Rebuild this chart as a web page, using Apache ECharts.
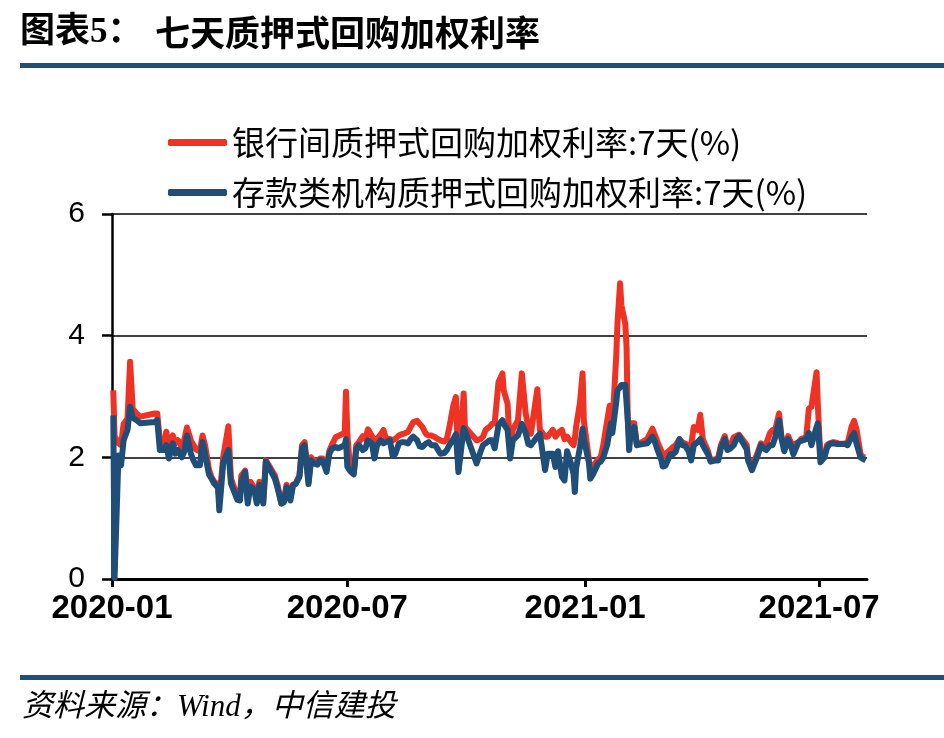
<!DOCTYPE html>
<html>
<head>
<meta charset="utf-8">
<title>七天质押式回购加权利率</title>
<script src="https://cdn.jsdelivr.net/npm/echarts@6/dist/echarts.min.js"></script>
<style>
  html, body { margin: 0; padding: 0; background: #fff; }
  #chart { width: 944px; height: 738px; }
</style>
</head>
<body>
<div id="chart"></div>
<script>
// 数据
var seriesNames = ['银行间质押式回购加权利率:7天(%)', '存款类机构质押式回购加权利率:7天(%)'];
var tickLabels = ['2020-01', '2020-07', '2021-01', '2021-07'];
var yTicks = [0, 2, 4, 6];

var dates = [
  '2020-01-02','2020-01-03','2020-01-06','2020-01-08','2020-01-10','2020-01-13','2020-01-15','2020-01-17','2020-01-20','2020-01-23',
  '2020-02-03','2020-02-05','2020-02-07','2020-02-10','2020-02-12','2020-02-14','2020-02-17','2020-02-19','2020-02-21','2020-02-24',
  '2020-02-26','2020-02-28','2020-03-02','2020-03-04','2020-03-06','2020-03-09','2020-03-11','2020-03-13','2020-03-16','2020-03-18',
  '2020-03-20','2020-03-23','2020-03-24','2020-03-27','2020-03-31','2020-04-02','2020-04-07','2020-04-09','2020-04-10','2020-04-13',
  '2020-04-15','2020-04-17','2020-04-20','2020-04-22','2020-04-24','2020-04-27','2020-04-29','2020-05-06','2020-05-08','2020-05-11',
  '2020-05-13','2020-05-15','2020-05-18','2020-05-20','2020-05-22','2020-05-25','2020-05-27','2020-05-29','2020-06-01','2020-06-03',
  '2020-06-05','2020-06-08','2020-06-10','2020-06-12','2020-06-15','2020-06-17','2020-06-19','2020-06-22','2020-06-24','2020-06-29',
  '2020-06-30','2020-07-01','2020-07-03','2020-07-06','2020-07-08','2020-07-10','2020-07-13','2020-07-15','2020-07-17','2020-07-20',
  '2020-07-22','2020-07-24','2020-07-27','2020-07-29','2020-07-31','2020-08-03','2020-08-05','2020-08-07','2020-08-10','2020-08-12',
  '2020-08-14','2020-08-17','2020-08-19','2020-08-21','2020-08-24','2020-08-26','2020-08-28','2020-08-31','2020-09-02','2020-09-04',
  '2020-09-07','2020-09-09','2020-09-11','2020-09-14','2020-09-16','2020-09-18','2020-09-21','2020-09-23','2020-09-25','2020-09-29',
  '2020-09-30','2020-10-09','2020-10-12','2020-10-14','2020-10-16','2020-10-19','2020-10-21','2020-10-23','2020-10-26','2020-10-29',
  '2020-10-30','2020-11-02','2020-11-04','2020-11-06','2020-11-10','2020-11-13','2020-11-16','2020-11-18','2020-11-20','2020-11-25',
  '2020-11-27','2020-12-01','2020-12-03','2020-12-07','2020-12-09','2020-12-11','2020-12-14','2020-12-16','2020-12-18','2020-12-21',
  '2020-12-23','2020-12-24','2020-12-25','2020-12-28','2020-12-30','2020-12-31','2021-01-04','2021-01-05','2021-01-07','2021-01-08',
  '2021-01-11','2021-01-13','2021-01-15','2021-01-18','2021-01-20','2021-01-21','2021-01-22','2021-01-25','2021-01-26','2021-01-28',
  '2021-01-29','2021-02-01','2021-02-02','2021-02-03','2021-02-04','2021-02-05','2021-02-08','2021-02-09','2021-02-10','2021-02-18',
  '2021-02-19','2021-02-22','2021-02-24','2021-02-26','2021-03-01','2021-03-02','2021-03-04','2021-03-08','2021-03-10','2021-03-12',
  '2021-03-15','2021-03-17','2021-03-19','2021-03-22','2021-03-24','2021-03-26','2021-03-29','2021-03-31','2021-04-02','2021-04-06',
  '2021-04-08','2021-04-12','2021-04-14','2021-04-16','2021-04-19','2021-04-21','2021-04-23','2021-04-26','2021-04-28','2021-04-30',
  '2021-05-06','2021-05-07','2021-05-10','2021-05-12','2021-05-14','2021-05-17','2021-05-19','2021-05-21','2021-05-24','2021-05-26',
  '2021-05-28','2021-05-31','2021-06-02','2021-06-04','2021-06-07','2021-06-09','2021-06-11','2021-06-15','2021-06-17','2021-06-21',
  '2021-06-23','2021-06-25','2021-06-29','2021-06-30','2021-07-02','2021-07-05','2021-07-07','2021-07-09','2021-07-12','2021-07-14',
  '2021-07-16','2021-07-19','2021-07-21','2021-07-23','2021-07-26','2021-07-28','2021-07-30','2021-08-02','2021-08-04','2021-08-06'
];

// 银行间质押式回购加权利率:7天
var interbankRate = [
  3.10,2.35,2.23,2.20,2.55,2.64,3.57,2.80,2.72,2.67,
  2.72,2.72,2.28,2.17,2.42,2.17,2.36,2.23,2.28,2.17,
  2.30,2.49,2.28,2.20,2.13,2.10,2.36,2.20,1.80,1.67,
  1.60,1.55,1.30,2.00,2.51,1.65,1.35,1.33,1.70,1.78,
  1.30,1.60,1.50,1.30,1.60,1.28,1.95,1.70,1.55,1.24,
  1.30,1.55,1.33,1.55,1.57,1.70,2.20,2.25,1.60,2.00,
  1.95,1.93,1.98,1.98,1.80,2.10,2.20,2.33,2.35,2.40,
  3.08,2.40,1.85,1.75,2.20,2.25,2.35,2.30,2.46,2.35,
  2.28,2.30,2.38,2.45,2.30,2.30,2.28,2.30,2.36,2.38,
  2.39,2.42,2.50,2.58,2.60,2.55,2.50,2.38,2.36,2.36,
  2.33,2.30,2.28,2.26,2.30,2.50,2.85,2.99,1.80,3.05,
  2.50,2.28,2.30,2.34,2.45,2.50,2.55,2.56,3.24,3.38,
  3.10,2.88,2.05,2.45,2.61,3.38,2.72,2.50,2.39,3.12,
  2.45,2.34,2.34,2.45,2.34,2.40,2.45,2.30,2.34,2.25,
  2.20,2.30,2.50,2.90,3.38,2.60,1.95,1.78,1.85,1.87,
  1.97,2.00,2.20,2.60,2.85,2.86,2.50,3.65,4.20,4.86,
  4.50,4.20,3.82,2.60,2.30,2.56,2.56,2.56,2.20,2.30,
  2.33,2.47,2.36,2.25,2.10,2.00,2.05,2.13,2.17,2.20,
  2.30,2.25,2.23,2.20,2.20,2.50,2.45,2.70,2.30,2.10,
  1.95,1.97,2.00,2.20,2.35,2.17,2.18,2.33,2.35,2.37,
  2.20,2.00,1.80,1.95,2.05,2.23,2.20,2.22,2.40,2.45,
  2.45,2.72,2.30,2.15,2.35,2.25,2.20,2.25,2.30,2.33,
  2.80,2.83,3.40,2.85,2.00,2.00,2.20,2.23,2.25,2.24,
  2.23,2.22,2.23,2.23,2.50,2.60,2.45,2.05,2.00,2.00
];

// 存款类机构质押式回购加权利率:7天
var depositRate = [
  2.69,0.02,2.03,1.87,2.28,2.45,2.83,2.65,2.61,2.56,
  2.58,2.61,2.12,2.12,2.20,1.98,2.23,2.06,2.12,2.00,
  2.10,2.36,2.06,1.95,1.87,1.87,2.25,2.05,1.72,1.65,
  1.57,1.50,1.13,1.90,2.12,1.57,1.30,1.29,1.60,1.76,
  1.24,1.52,1.47,1.24,1.55,1.24,1.93,1.65,1.50,1.24,
  1.26,1.51,1.29,1.54,1.56,1.68,2.15,2.20,1.56,1.95,
  1.90,1.88,1.96,1.94,1.76,2.05,2.14,2.17,2.15,2.20,
  2.30,1.85,1.78,1.72,2.15,2.20,2.12,2.15,2.28,2.23,
  1.98,2.20,2.28,2.23,2.25,2.28,2.03,2.05,2.23,2.25,
  2.25,2.23,2.30,2.34,2.28,2.18,2.17,2.23,2.25,2.20,
  2.20,2.13,2.06,2.07,2.12,2.20,2.30,2.38,1.76,2.48,
  2.44,1.90,2.09,2.20,2.23,2.28,2.28,2.15,2.53,2.61,
  2.55,2.45,1.98,2.28,2.36,2.55,2.40,2.22,2.20,2.34,
  2.39,1.79,2.06,2.06,1.84,2.10,1.68,1.62,2.10,1.90,
  1.73,1.43,1.82,2.17,2.47,2.30,1.90,1.65,1.72,1.75,
  1.90,1.93,2.00,2.20,2.45,2.56,2.40,2.90,3.10,3.15,
  3.19,3.19,3.19,2.60,2.12,2.35,2.50,2.47,2.20,2.23,
  2.23,2.34,2.25,2.12,1.95,1.85,1.86,2.05,2.05,2.09,
  2.30,2.20,2.20,2.10,1.95,2.20,2.25,2.30,2.20,2.05,
  1.93,1.95,1.95,2.15,2.30,2.12,2.14,2.20,2.30,2.35,
  2.13,1.95,1.79,1.90,2.00,2.20,2.15,2.12,2.20,2.20,
  2.33,2.61,2.30,2.10,2.30,2.20,2.05,2.25,2.27,2.30,
  2.40,2.20,2.50,2.56,1.92,2.00,2.15,2.22,2.23,2.22,
  2.22,2.22,2.22,2.20,2.33,2.40,2.22,2.00,1.97,1.95
];

var axisStart = '2020-01-01';
var axisEnd = '2021-08-07';

function toTime(s) { return +echarts.time.parse(s); }

var tickTimes = tickLabels.map(function (s) { return toTime(s + '-01'); });

function pairs(vals) {
  return dates.map(function (d, i) { return [toTime(d), vals[i]]; });
}

var chart = echarts.init(document.getElementById('chart'));

var option = {
  animation: false,
  backgroundColor: '#ffffff',
  graphic: [
    { type: 'text', left: 20, top: 15,
      style: { text: '图表5：', font: 'bold 35px "Liberation Serif", "Noto Sans CJK SC"', fill: '#000' } },
    { type: 'text', left: 155, top: 15,
      style: { text: '七天质押式回购加权利率', font: 'bold 35px "Noto Sans CJK SC"', fill: '#000' } },
    { type: 'rect', shape: { x: 20, y: 63, width: 924, height: 5 }, style: { fill: '#1F4E79' } },
    { type: 'rect', shape: { x: 20, y: 675, width: 924, height: 5 }, style: { fill: '#1F4E79' } },
    { type: 'text', left: 22, top: 692,
      style: { text: '资料来源：Wind，中信建投', font: 'italic 31px "Liberation Serif", "Noto Sans CJK SC"', fill: '#000' } }
  ],
  legend: {
    orient: 'vertical',
    left: 163,
    top: 121,
    itemGap: 17,
    itemWidth: 59,
    itemHeight: 7,
    icon: 'roundRect',
    textStyle: { fontSize: 33, color: '#000', fontFamily: '"Noto Sans CJK SC"' },
    data: seriesNames
  },
  grid: { left: 112, right: 77, top: 214, bottom: 159, containLabel: false },
  xAxis: {
    type: 'value',
    min: toTime(axisStart),
    max: toTime(axisEnd),
    axisLine: { show: true, lineStyle: { color: '#000', width: 3 } },
    axisTick: { show: true, customValues: tickTimes, length: 8, lineStyle: { color: '#000', width: 3 } },
    axisLabel: {
      customValues: tickTimes,
      margin: 13,
      fontSize: 33,
      fontWeight: 'bold',
      color: '#000',
      fontFamily: '"Liberation Sans", Arial',
      formatter: function (v) { return echarts.time.format(v, '{yyyy}-{MM}', false); }
    },
    splitLine: { show: false }
  },
  yAxis: {
    type: 'value',
    min: yTicks[0],
    max: yTicks[yTicks.length - 1],
    interval: 2,
    axisLine: { show: true, lineStyle: { color: '#000', width: 2.5 } },
    axisTick: { show: true, length: 10, lineStyle: { color: '#000', width: 2.5 } },
    axisLabel: { margin: 27, fontSize: 30, color: '#000', fontFamily: '"Liberation Sans", Arial' },
    splitLine: { show: true, lineStyle: { color: '#000', width: 1.5 } }
  },
  series: [
    {
      name: seriesNames[0],
      type: 'line',
      data: pairs(interbankRate),
      showSymbol: false,
      symbol: 'none',
      color: '#EE3224',
      lineStyle: { width: 6, color: '#EE3224', join: 'round' }
    },
    {
      name: seriesNames[1],
      type: 'line',
      data: pairs(depositRate),
      showSymbol: false,
      symbol: 'none',
      color: '#1F4E79',
      lineStyle: { width: 6, color: '#1F4E79', join: 'round' }
    }
  ]
};

chart.setOption(option);
</script>
</body>
</html>
